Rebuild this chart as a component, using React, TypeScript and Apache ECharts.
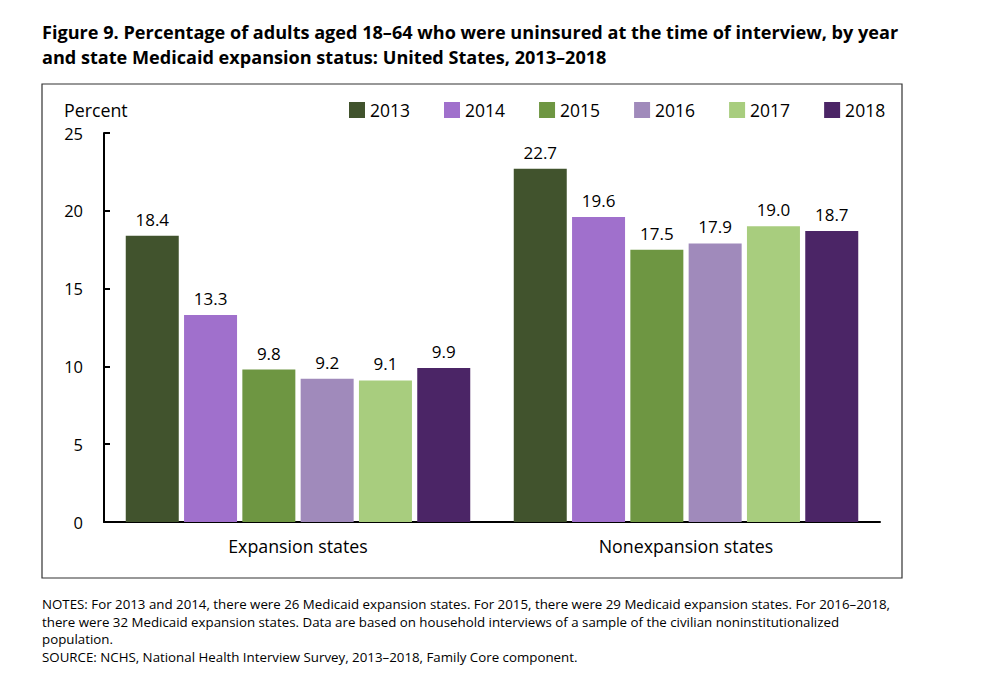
import React, { useEffect, useRef } from "react";
import * as echarts from "echarts";

const categories = ["Expansion states", "Nonexpansion states"];
const years = ["2013", "2014", "2015", "2016", "2017", "2018"];
const colors = ["#41532D", "#A070CC", "#6E9642", "#A08ABB", "#A8CD7E", "#4B2566"];
const values2013 = [18.4, 22.7];
const values2014 = [13.3, 19.6];
const values2015 = [9.8, 17.5];
const values2016 = [9.2, 17.9];
const values2017 = [9.1, 19.0];
const values2018 = [9.9, 18.7];
const seriesValues = [values2013, values2014, values2015, values2016, values2017, values2018];
const yTicks = [0, 5, 10, 15, 20, 25];

const titleLines = [
  "Figure 9. Percentage of adults aged 18\u201364 who were uninsured at the time of interview, by year",
  "and state Medicaid expansion status: United States, 2013\u20132018",
];
const noteLines = [
  "NOTES: For 2013 and 2014, there were 26 Medicaid expansion states. For 2015, there were 29 Medicaid expansion states. For 2016\u20132018,",
  "there were 32 Medicaid expansion states. Data are based on household interviews of a sample of the civilian noninstitutionalized",
  "population.",
  "SOURCE: NCHS, National Health Interview Survey, 2013\u20132018, Family Core component.",
];

const FONT = "'Open Sans', sans-serif";

export default function App() {
  const ref = useRef<HTMLDivElement>(null);
  useEffect(() => {
    if (!ref.current) return;
    const chart = echarts.init(ref.current, null, { renderer: "svg" });
    const graphics: any[] = [
      {
        type: "rect",
        shape: { x: 42, y: 84, width: 860, height: 494 },
        style: { fill: "none", stroke: "#333", lineWidth: 1.2 },
        silent: true,
      },
      {
        type: "text",
        x: 64,
        y: 110,
        style: { text: "Percent", font: `17.8px ${FONT}`, fill: "#000", verticalAlign: "middle" },
      },
    ];
    titleLines.forEach((t, i) => {
      graphics.push({
        type: "text",
        x: 42,
        y: 32 + i * 25,
        style: { text: t, font: `bold 18.1px ${FONT}`, fill: "#000", verticalAlign: "middle" },
      });
    });
    noteLines.forEach((t, i) => {
      graphics.push({
        type: "text",
        x: 42,
        y: 604 + i * 17.5,
        style: { text: t, font: `13.3px ${FONT}`, fill: "#000", verticalAlign: "middle" },
      });
    });
    chart.setOption({
      animation: false,
      textStyle: { fontFamily: FONT },
      legend: {
        data: years,
        left: 344,
        top: 96,
        itemWidth: 16,
        itemHeight: 16,
        itemGap: 34,
        icon: "rect",
        textStyle: { fontSize: 17.5, color: "#000", fontFamily: FONT },
      },
      grid: { left: 104, top: 133, width: 776, height: 389, containLabel: false },
      xAxis: {
        type: "category",
        data: categories,
        axisLine: { lineStyle: { color: "#000", width: 2 } },
        axisTick: { show: false },
        axisLabel: { fontSize: 17.8, color: "#000", margin: 15, fontFamily: FONT },
      },
      yAxis: {
        type: "value",
        min: 0,
        max: 25,
        interval: 5,
        axisLine: { show: true, lineStyle: { color: "#000", width: 2 } },
        axisTick: { show: true, inside: true, length: 6, lineStyle: { color: "#000", width: 2 } },
        splitLine: { show: false },
        axisLabel: { fontSize: 16.5, color: "#000", margin: 21, fontFamily: FONT },
      },
      series: years.map((y, i) => ({
        name: y,
        type: "bar",
        data: seriesValues[i],
        barWidth: 53,
        barGap: "10%",
        itemStyle: { color: colors[i] },
        label: {
          show: true,
          position: "top",
          distance: 8,
          fontSize: 17,
          color: "#000",
          fontFamily: FONT,
          formatter: (p: any) => p.value.toFixed(1),
        },
      })),
      graphic: graphics,
    });
    return () => chart.dispose();
  }, []);
  return <div ref={ref} style={{ position: "absolute", left: 0, top: 0, width: 988, height: 680 }} />;
}
